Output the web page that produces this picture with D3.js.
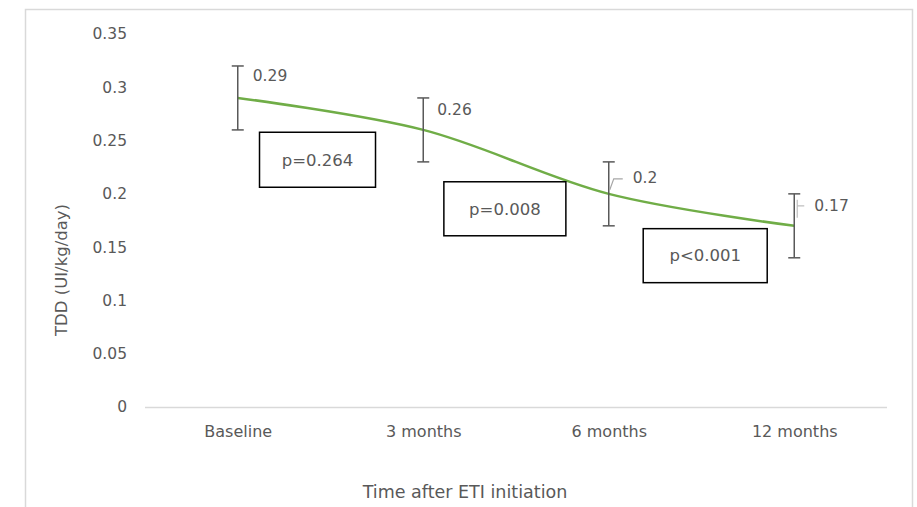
<!DOCTYPE html>
<html>
<head>
<meta charset="utf-8">
<script src="https://cdn.jsdelivr.net/npm/d3@7"></script>
<style>
  body { margin: 0; background: #fff; }
  text { font-family: "DejaVu Sans", sans-serif; fill: #595959; }
</style>
</head>
<body>
<script>
// chart data
var categories = ["Baseline", "3 months", "6 months", "12 months"];
var tdd = [0.29, 0.26, 0.2, 0.17];
var errLow = [0.26, 0.23, 0.17, 0.14];
var errHigh = [0.32, 0.29, 0.23, 0.2];
var yTicks = [0, 0.05, 0.1, 0.15, 0.2, 0.25, 0.3, 0.35];
var pLabels = ["p=0.264", "p=0.008", "p<0.001"];

// annotation placement (label offsets in px, box centres in data units)
var labelOffsets = [[15, -22], [14, -20], [24, -16], [20, -20]];
var pBoxes = [
  {from: 0, t: 0.43, y: 0.232, w: 116, h: 55},
  {from: 1, t: 0.44, y: 0.186, w: 122, h: 54},
  {from: 2, t: 0.52, y: 0.142, w: 124, h: 54}
];

var W = 917, H = 507;

var svg = d3.select("body").append("svg")
    .attr("width", W)
    .attr("height", H);

// outer chart frame
svg.append("rect")
    .attr("x", 25.5).attr("y", 9.5)
    .attr("width", 887).attr("height", 600)
    .style("fill", "none")
    .style("stroke", "#d9d9d9")
    .style("stroke-width", 1.5);

var x = d3.scalePoint().domain(categories).range([145, 887]).padding(0.5);
var y = d3.scaleLinear().domain([0, 0.35]).range([407, 34]);

// y tick labels (no axis line)
svg.selectAll(".ytick")
    .data(yTicks)
    .enter().append("text")
    .attr("x", 127)
    .attr("y", function(d) { return y(d); })
    .attr("dy", "0.35em")
    .style("text-anchor", "end")
    .style("font-size", "15.5px")
    .text(function(d) { return d; });

// x axis
var xAxis = svg.append("g")
    .attr("transform", "translate(0," + y(0) + ")")
    .call(d3.axisBottom(x).tickSize(0).tickPadding(19));
xAxis.select(".domain").attr("d", "M145,0.5H887").style("stroke", "#d9d9d9").style("stroke-width", 1.3);
xAxis.selectAll("text")
    .style("font-family", "DejaVu Sans")
    .style("font-size", "16px")
    .style("fill", "#595959");

// axis titles
svg.append("text")
    .attr("transform", "translate(67," + 270 + ") rotate(-90)")
    .style("text-anchor", "middle")
    .style("font-size", "16.5px")
    .text("TDD (UI/kg/day)");
svg.append("text")
    .attr("x", 465)
    .attr("y", 498)
    .style("text-anchor", "middle")
    .style("font-size", "17.5px")
    .text("Time after ETI initiation");

var pts = categories.map(function(c, i) { return {c: c, v: tdd[i], lo: errLow[i], hi: errHigh[i]}; });

// smoothed line
var line = d3.line()
    .x(function(d) { return x(d.c); })
    .y(function(d) { return y(d.v); })
    .curve(d3.curveCatmullRom.alpha(0.5));
svg.append("path")
    .datum(pts)
    .attr("d", line)
    .style("fill", "none")
    .style("stroke", "#70ad47")
    .style("stroke-width", 2.5);

// error bars
var eb = svg.selectAll(".err").data(pts).enter().append("g").attr("class", "err");
eb.append("line")
    .attr("x1", function(d) { return x(d.c); })
    .attr("x2", function(d) { return x(d.c); })
    .attr("y1", function(d) { return y(d.lo); })
    .attr("y2", function(d) { return y(d.hi); });
eb.append("line")
    .attr("x1", function(d) { return x(d.c) - 6; })
    .attr("x2", function(d) { return x(d.c) + 6; })
    .attr("y1", function(d) { return y(d.hi); })
    .attr("y2", function(d) { return y(d.hi); });
eb.append("line")
    .attr("x1", function(d) { return x(d.c) - 6; })
    .attr("x2", function(d) { return x(d.c) + 6; })
    .attr("y1", function(d) { return y(d.lo); })
    .attr("y2", function(d) { return y(d.lo); });
eb.selectAll("line").style("stroke", "#595959").style("stroke-width", 1.5);

// leader lines for the moved labels
svg.append("path")
    .attr("d", "M" + (x(categories[2]) + 1) + "," + (y(tdd[2]) - 4) +
               "L" + (x(categories[2]) + 5) + "," + (y(tdd[2]) - 15) +
               "L" + (x(categories[2]) + 14) + "," + (y(tdd[2]) - 15))
    .style("fill", "none").style("stroke", "#a6a6a6").style("stroke-width", 1.2);
svg.append("path")
    .attr("d", "M" + (x(categories[3]) + 3) + "," + (y(tdd[3]) - 8) +
               "L" + (x(categories[3]) + 3) + "," + (y(tdd[3]) - 26) +
               "M" + (x(categories[3]) + 3) + "," + (y(tdd[3]) - 20) +
               "L" + (x(categories[3]) + 10) + "," + (y(tdd[3]) - 20))
    .style("fill", "none").style("stroke", "#bfbfbf").style("stroke-width", 1.2);

// data labels
svg.selectAll(".dlabel")
    .data(pts)
    .enter().append("text")
    .attr("x", function(d, i) { return x(d.c) + labelOffsets[i][0]; })
    .attr("y", function(d, i) { return y(d.v) + labelOffsets[i][1]; })
    .attr("dy", "0.35em")
    .style("font-size", "15.5px")
    .text(function(d) { return d.v; });

// p-value boxes
var pb = svg.selectAll(".pbox")
    .data(pBoxes)
    .enter().append("g")
    .attr("transform", function(d) {
      var cx = x(categories[d.from]) + d.t * (x(categories[d.from + 1]) - x(categories[d.from]));
      return "translate(" + cx + "," + y(d.y) + ")";
    });
pb.append("rect")
    .attr("x", function(d) { return -d.w / 2; })
    .attr("y", function(d) { return -d.h / 2; })
    .attr("width", function(d) { return d.w; })
    .attr("height", function(d) { return d.h; })
    .style("fill", "#fff")
    .style("stroke", "#000")
    .style("stroke-width", 1.5);
pb.append("text")
    .attr("dy", "0.35em")
    .style("text-anchor", "middle")
    .style("font-size", "16.5px")
    .text(function(d, i) { return pLabels[i]; });
</script>
</body>
</html>
